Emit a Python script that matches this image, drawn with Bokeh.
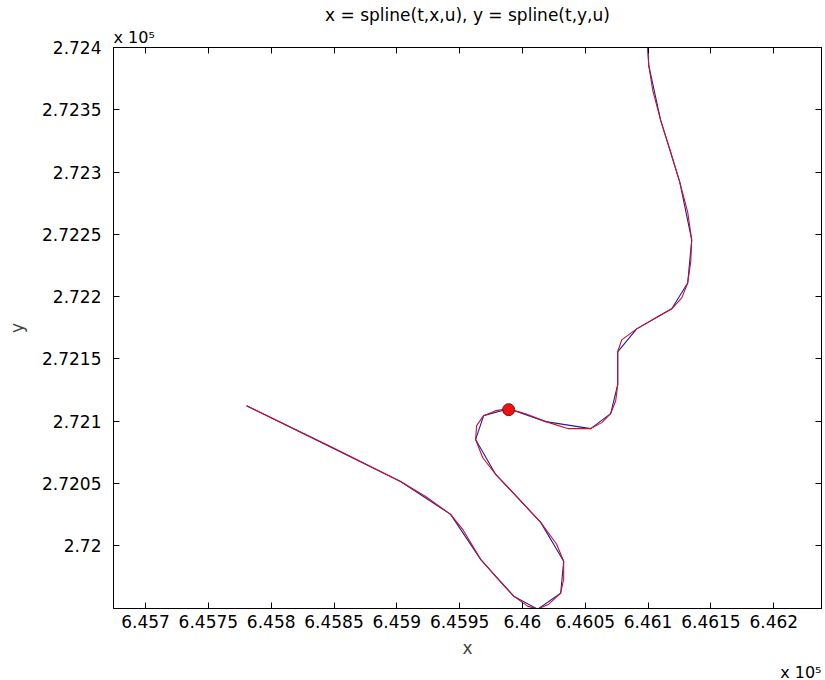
from bokeh.plotting import figure
from bokeh.models import FixedTicker, LinearAxis, Range1d, Title
from bokeh.embed import file_html
from bokeh.resources import INLINE

# original (coarse) data points, blue
x_data = [645780.4, 645903.0, 645942.8, 645966.7, 645993.0, 646012.1, 646030.4,
          646032.8, 646014.5, 645978.7, 645962.7, 645969.1, 645989.0, 646018.5,
          646054.3, 646070.2, 646075.8, 646075.8, 646090.9, 646118.8, 646131.5,
          646134.7, 646125.2, 646110.0, 646100.5, 646098.9]
y_data = [272112.3, 272051.4, 272025.0, 271988.9, 271959.3, 271948.9, 271961.7,
          271987.3, 272018.6, 272057.1, 272085.1, 272104.3, 272109.9, 272099.5,
          272093.9, 272105.9, 272129.2, 272155.6, 272174.0, 272190.1, 272210.9,
          272245.4, 272291.8, 272341.5, 272385.6, 272417.6]

# spline curve samples, red
x_spline = [645780.4, 645847.3, 645903.0, 645922.9, 645942.8, 645952.4, 645966.7,
            645977.1, 645993.0, 646004.1, 646012.1, 646020.9, 646030.4, 646032.8,
            646032.8, 646027.2, 646014.5, 645994.6, 645978.7, 645968.3, 645962.7,
            645963.5, 645969.1, 645978.7, 645989.0, 646002.5, 646018.5, 646036.0,
            646054.3, 646063.1, 646070.2, 646074.2, 646075.8, 646075.8, 646079.0,
            646090.9, 646107.6, 646118.8, 646126.8, 646131.5, 646133.9, 646134.7,
            646131.5, 646125.2, 646118.0, 646110.0, 646103.7, 646100.5, 646099.7,
            646098.9]
y_spline = [272112.3, 272079.5, 272051.4, 272039.4, 272025.0, 272013.0, 271988.9,
            271976.9, 271959.3, 271951.3, 271948.9, 271952.9, 271961.7, 271972.9,
            271987.3, 272001.0, 272018.6, 272040.2, 272057.1, 272070.7, 272085.1,
            272096.3, 272104.3, 272108.3, 272109.9, 272105.9, 272099.5, 272093.9,
            272093.9, 272098.7, 272105.9, 272116.3, 272129.2, 272155.6, 272165.2,
            272174.0, 272183.7, 272190.1, 272198.9, 272210.9, 272227.7, 272245.4,
            272267.8, 272291.8, 272315.9, 272341.5, 272365.5, 272385.6, 272400.0,
            272417.6]

marker_x = [645989.0]
marker_y = [272109.1]

x_ticks = [645700, 645750, 645800, 645850, 645900, 645950, 646000, 646050, 646100, 646150, 646200]
x_tick_labels = ["6.457", "6.4575", "6.458", "6.4585", "6.459", "6.4595", "6.46",
                 "6.4605", "6.461", "6.4615", "6.462"]
y_ticks = [272000, 272050, 272100, 272150, 272200, 272250, 272300, 272350, 272400]
y_tick_labels = ["2.72", "2.7205", "2.721", "2.7215", "2.722", "2.7225", "2.723",
                 "2.7235", "2.724"]
exponent_text = "x 10\u2075"

x_lo, x_hi = 645674.5, 646238.0
y_lo, y_hi = 271949.4, 272400.0

FONT = "DejaVu Sans"
FS = "17px"

p = figure(frame_width=708, frame_height=561, output_backend="svg", toolbar_location=None,
           x_range=Range1d(x_lo, x_hi), y_range=Range1d(y_lo, y_hi),
           min_border_left=113, min_border_right=4, min_border_top=47, min_border_bottom=72,
           title="x = spline(t,x,u), y = spline(t,y,u)")
p.background_fill_color = "white"
p.border_fill_color = "white"
p.outline_line_color = "black"
p.outline_line_width = 1
p.grid.visible = False

p.title.align = "center"
p.title.text_font = FONT
p.title.text_font_size = FS
p.title.text_font_style = "normal"
p.title.text_color = "black"
p.title.standoff = 0

for ax, ticks, labels in ((p.xaxis[0], x_ticks, x_tick_labels), (p.yaxis[0], y_ticks, y_tick_labels)):
    ax.ticker = FixedTicker(ticks=ticks)
    ax.major_label_overrides = {t: l for t, l in zip(ticks, labels)}
    ax.major_tick_in = 6
    ax.major_tick_out = 0
    ax.minor_tick_line_color = None
    ax.major_label_text_font = FONT
    ax.major_label_text_font_size = FS
    ax.major_label_text_color = "black"
    ax.axis_label_text_font = FONT
    ax.axis_label_text_font_size = FS
    ax.axis_label_text_font_style = "normal"
    ax.axis_line_color = "black"

p.xaxis[0].axis_label = "x"
p.yaxis[0].axis_label = "y"
p.xaxis[0].major_label_standoff = 6
p.xaxis[0].axis_label_standoff = 7
p.yaxis[0].major_label_standoff = 12
p.yaxis[0].axis_label_standoff = 12

for loc, ticks in (("above", x_ticks), ("right", y_ticks)):
    ax = LinearAxis(ticker=FixedTicker(ticks=ticks))
    ax.major_tick_in = 6
    ax.major_tick_out = 0
    ax.minor_tick_line_color = None
    ax.major_label_text_font_size = "1px"
    ax.major_label_text_color = None
    ax.major_label_standoff = 0
    p.add_layout(ax, loc)

# exponent annotations (x 10^5) as side-panel titles
p.add_layout(Title(text=exponent_text, align="left", text_font=FONT, text_font_size="16px",
                   text_font_style="normal", text_color="black", standoff=2), "above")
p.add_layout(Title(text=exponent_text, align="right", text_font=FONT, text_font_size="16px",
                   text_font_style="normal", text_color="black", standoff=0), "below")

p.line(x_data, y_data, line_color="#1f1f9a", line_width=1.1)
p.line(x_spline, y_spline, line_color="#c8102e", line_width=1.1)
p.scatter(marker_x, marker_y, size=12, fill_color="#ee1111", line_color="#7a1010", line_width=1)

open("out.html", "w").write(file_html(p, INLINE))
